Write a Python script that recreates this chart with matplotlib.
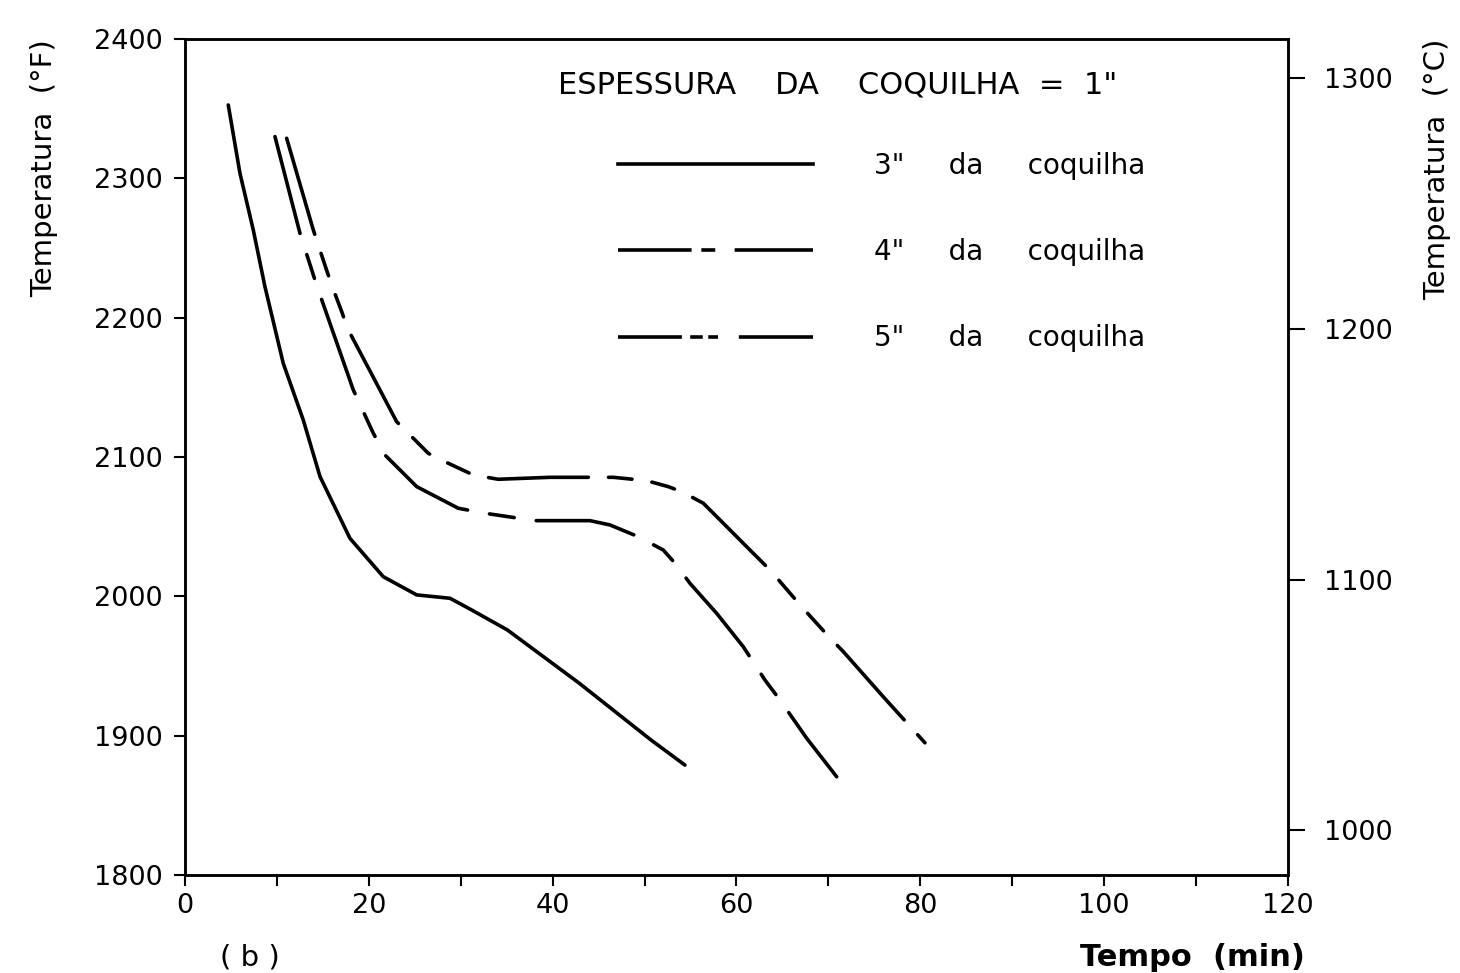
import numpy as np
import matplotlib
matplotlib.use('Agg')
import matplotlib.pyplot as plt
from matplotlib.lines import Line2D

plt.rcParams['font.family'] = ['DejaVu Sans']
plt.rcParams['lines.scale_dashes'] = False

# curves: time (min), temperature (F)
t_3 = [4.71, 5.98, 7.43, 8.70, 10.69, 12.87, 14.69, 17.95, 21.57, 25.21, 28.83, 31.19,
       35.09, 42.86, 50.70, 54.39]
T_3 = [2352.6, 2303.6, 2262.9, 2222.2, 2167.2, 2126.5, 2085.9, 2041.6, 2014.1, 2001.0, 1998.6, 1990.2,
       1975.8, 1937.8, 1896.9, 1878.9]

t_4 = [9.79, 12.51, 14.14, 14.69, 18.31, 20.49, 21.76, 24.12, 25.21, 29.73, 32.64, 38.08,
       44.06, 46.24, 49.31, 52.04, 53.31, 54.94, 57.84, 60.74, 63.10, 64.73, 67.64, 70.90]
T_4 = [2329.9, 2260.5, 2227.0, 2216.3, 2148.1, 2117.0, 2101.4, 2085.9, 2078.7, 2063.2, 2059.6, 2054.3,
       2054.3, 2051.2, 2042.8, 2033.2, 2023.7, 2009.3, 1987.8, 1963.8, 1939.9, 1925.6, 1898.1, 1870.5]

t_5 = [11.06, 13.96, 15.34, 15.96, 17.05, 17.77, 20.40, 23.03, 24.66, 26.47, 28.64, 31.36,
       34.08, 39.71, 46.60, 50.23, 52.58, 54.04, 56.39, 58.57, 61.47, 63.65, 67.09, 69.98,
       71.62, 75.97, 80.50]
T_5 = [2328.7, 2262.9, 2235.4, 2223.4, 2204.3, 2191.1, 2158.3, 2125.3, 2114.6, 2102.6, 2095.5, 2087.1,
       2084.0, 2085.4, 2085.4, 2083.0, 2078.7, 2075.1, 2066.8, 2052.4, 2033.2, 2018.9, 1992.5, 1971.5,
       1960.3, 1927.9, 1894.9]

labels = ['3"     da     coquilha', '4"     da     coquilha', '5"     da     coquilha']
title = 'ESPESSURA    DA    COQUILHA  =  1"'

x_major = [0, 20, 40, 60, 80, 100, 120]
x_minor = [10, 30, 50, 70, 90, 110]
yF_ticks = [1800, 1900, 2000, 2100, 2200, 2300, 2400]
yC_ticks = [1000, 1100, 1200, 1300]

fig = plt.figure(figsize=(14.6, 9.73), dpi=100)
ax = fig.add_axes([0.1267, 0.1007, 0.7555, 0.8593])

lw = 2.6
ax.plot(t_3, T_3, color='black', lw=lw, solid_capstyle='round', solid_joinstyle='round')
ax.plot(t_4, T_4, color='black', lw=lw, dash_capstyle='round', dash_joinstyle='round',
        linestyle=(0, (72, 16, 18, 16)))
ax.plot(t_5, T_5, color='black', lw=lw, dash_capstyle='round', dash_joinstyle='round',
        linestyle=(0, (72, 14.5, 17, 14.5, 17, 14.5)))

ax.set_xlim(0, 120)
ax.set_ylim(1800, 2400)
ax.set_xticks(x_major)
ax.set_xticks(x_minor, minor=True)
ax.set_yticks(yF_ticks)
ax.tick_params(axis='both', which='major', direction='out', length=8, width=1.5,
               labelsize=19.5)
ax.tick_params(axis='y', pad=8)
ax.tick_params(axis='x', pad=5)
ax.tick_params(axis='x', which='minor', direction='out', length=8, width=1.5)
for s in ax.spines.values():
    s.set_linewidth(1.8)

ax.set_ylabel('Temperatura  (°F)', fontsize=21, loc='top', labelpad=26)

axr = ax.twinx()
axr.set_ylim((1800 - 32) / 1.8, (2400 - 32) / 1.8)
axr.set_yticks(yC_ticks)
axr.tick_params(axis='y', direction='out', length=12, width=1.5, labelsize=19.5, pad=14)
axr.set_ylabel('Temperatura  (°C)', fontsize=21, loc='top', labelpad=22)
for s in axr.spines.values():
    s.set_linewidth(1.8)

ax.text(0.338, 0.945, title, transform=ax.transAxes, fontsize=22, va='center', ha='left')

# legend keys drawn the way the original key shows them
handles = [
    Line2D([], [], color='black', lw=lw),
    Line2D([], [], color='black', lw=lw, linestyle=(0, (53, 7, 10, 14, 60, 10))),
    Line2D([], [], color='black', lw=lw, linestyle=(0, (46, 6, 9, 4, 7, 15, 60, 10))),
]
leg = ax.legend(handles, labels, loc='upper left', bbox_to_anchor=(0.37, 0.895), frameon=False,
                fontsize=20, handlelength=7.0, handletextpad=2.2, labelspacing=2.1)

fig.text(0.171, 0.0164, '( b )', fontsize=21, ha='center', va='center')
fig.text(0.894, 0.0164, 'Tempo  (min)', fontsize=22, ha='right', va='center', fontweight='bold')

fig.savefig('out.png', dpi=100, facecolor='white')
